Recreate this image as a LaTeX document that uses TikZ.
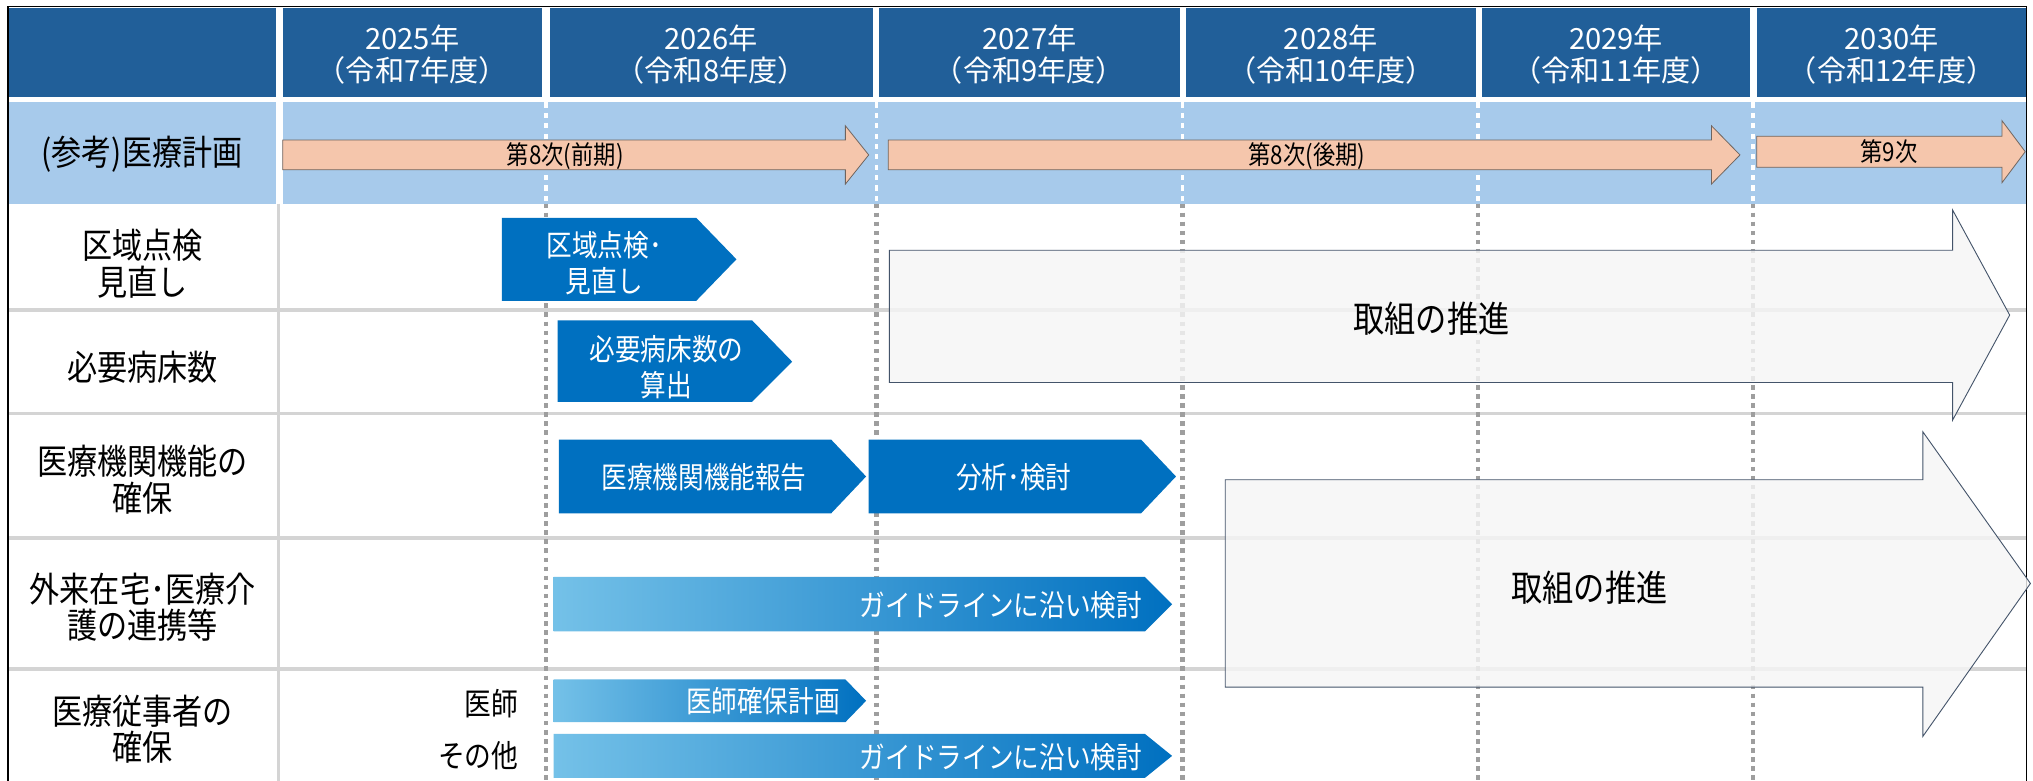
\documentclass[tikz,border=0pt]{standalone}
\usepackage{fontspec}
\setmainfont{Noto Sans CJK JP}
\newfontfamily\jpn[FakeStretch=0.86]{Noto Sans CJK JP}

\definecolor{hdrblue}{RGB}{33,95,153}
\definecolor{rowblue}{RGB}{167,202,235}
\definecolor{planorange}{RGB}{245,198,172}
\definecolor{planedge}{RGB}{110,100,95}
\definecolor{stepblue}{RGB}{0,112,192}
\definecolor{gradlight}{RGB}{116,193,232}
\definecolor{gridgrey}{RGB}{212,212,212}
\definecolor{dashgrey}{RGB}{158,158,158}
\definecolor{bigedge}{RGB}{68,84,106}
\definecolor{bigfill}{RGB}{246,246,246}

\begin{document}
\begin{tikzpicture}[x=1pt, y=-1pt,
		hdrcell/.style={fill=hdrblue, minimum height=69pt},
		hdrtext/.style={text=white, align=center, inner sep=0pt, font=\fontsize{22.5}{25}\selectfont},
		rowname/.style={align=center, inner sep=0pt, font=\jpn\fontsize{27}{28}\selectfont},
		subname/.style={anchor=east, inner sep=0pt, font=\jpn\fontsize{24}{26}\selectfont},
		gridline/.style={draw=gridgrey, line width=2.5pt},
		yearsep/.style={draw=dashgrey, line width=3.5pt, dash pattern=on 3.5pt off 3.5pt},
		rowsep/.style={draw=white, line width=3pt, dash pattern=on 4pt off 4pt},
		plan/.style={fill=planorange, draw=planedge, line width=0.6pt},
		plantext/.style={inner sep=0pt, font=\jpn\fontsize{20}{22}\selectfont},
		stepbox/.style={fill=stepblue},
		fadebox/.style={left color=gradlight, right color=stepblue},
		steptext/.style={text=white, align=center, inner sep=0pt, font=\jpn\fontsize{23}{28}\selectfont},
		pushbox/.style={fill=bigfill, fill opacity=0.82, draw=bigedge, line width=0.7pt},
		pushtext/.style={inner sep=0pt, font=\jpn\fontsize{28}{32}\selectfont}]

		\useasboundingbox (0,0) rectangle (1568,602);
		\fill[white] (0,0) rectangle (1568,602);

		% header
		\fill[hdrcell] (6,6) rectangle (213,75);
		\fill[hdrcell] (218,6) rectangle (418,75);
		\fill[hdrcell] (424,6) rectangle (673,75);
		\fill[hdrcell] (678,6) rectangle (910,75);
		\fill[hdrcell] (915,6) rectangle (1138,75);
		\fill[hdrcell] (1143,6) rectangle (1350,75);
		\fill[hdrcell] (1355,6) rectangle (1563,75);
		\node[hdrtext] (h2025) at (318,42) {2025年\\（令和7年度）};
		\node[hdrtext] (h2026) at (548.5,42) {2026年\\（令和8年度）};
		\node[hdrtext] (h2027) at (794,42) {2027年\\（令和9年度）};
		\node[hdrtext] (h2028) at (1026.5,42) {2028年\\（令和10年度）};
		\node[hdrtext] (h2029) at (1246.5,42) {2029年\\（令和11年度）};
		\node[hdrtext] (h2030) at (1459,42) {2030年\\（令和12年度）};

		% medical plan row
		\fill[rowblue] (6,79) rectangle (213,157);
		\fill[rowblue] (218,79) rectangle (1563,157);
		\node[rowname] (plan) at (109.5,119) {(参考)医療計画};
		\draw[rowsep] (421,79) -- (421,157);
		\draw[rowsep] (676,79) -- (676,157);
		\draw[rowsep] (912,79) -- (912,157);
		\draw[rowsep] (1140,79) -- (1140,157);
		\draw[rowsep] (1352,79) -- (1352,157);

		% grid
		\draw[gridline] (6,239) -- (1563,239);
		\draw[gridline] (6,319) -- (1563,319);
		\draw[gridline] (6,415) -- (1563,415);
		\draw[gridline] (6,516) -- (1563,516);
		\draw[gridline] (215,157) -- (215,602);
		\draw[yearsep] (421,157) -- (421,602);
		\draw[yearsep] (676,157) -- (676,602);
		\draw[yearsep] (912,157) -- (912,602);
		\draw[yearsep] (1140,157) -- (1140,602);
		\draw[yearsep] (1352,157) -- (1352,602);
		\draw[black, line width=1.2pt] (6,602) -- (6,5) -- (1563,5) -- (1563,602);

		% plan arrows
		\draw[plan] (218,108) -- (652,108) -- (652,97) -- (670,119.5) -- (652,142) -- (652,131) -- (218,131) -- cycle;
		\draw[plan] (685,108) -- (1320,108) -- (1320,97) -- (1342,119.5) -- (1320,142) -- (1320,131) -- (685,131) -- cycle;
		\draw[plan] (1355,105) -- (1544,105) -- (1544,93) -- (1562,117) -- (1544,141) -- (1544,129) -- (1355,129) -- cycle;
		\node[plantext] (p8a) at (436,120) {第8次(前期)};
		\node[plantext] (p8b) at (1008,120) {第8次(後期)};
		\node[plantext] (p9) at (1457,117) {第9次};

		% row labels
		\node[rowname] (r1) at (110,203.5) {区域点検\\見直し};
		\node[rowname] (r2) at (110,283) {必要病床数};
		\node[rowname] (r3) at (110,370) {医療機関機能の\\確保};
		\node[rowname] (r4) at (110,468.5) {外来在宅･医療介\\護の連携等};
		\node[rowname] (r5) at (110,562.5) {医療従事者の\\確保};
		\node[subname] (doc) at (400,543) {医師};
		\node[subname] (other) at (400,583) {その他};

		% steps
		\fill[stepbox] (387,168) -- (537,168) -- (568,200) -- (537,232) -- (387,232) -- cycle;
		\fill[stepbox] (430,247) -- (580,247) -- (611,279) -- (580,310) -- (430,310) -- cycle;
		\fill[stepbox] (431,339) -- (641,339) -- (668,367.5) -- (641,396) -- (431,396) -- cycle;
		\fill[stepbox] (670,339) -- (880,339) -- (907,367.5) -- (880,396) -- (670,396) -- cycle;
		\shade[fadebox] (427,445) -- (883,445) -- (904,466) -- (883,487) -- (427,487) -- cycle;
		\shade[fadebox] (427,524) -- (652,524) -- (668,540.5) -- (652,557) -- (427,557) -- cycle;
		\shade[fadebox] (427,566) -- (883,566) -- (904,583) -- (883,600) -- (427,600) -- cycle;
		\node[steptext] (review) at (466,203) {区域点検･\\見直し};
		\node[steptext] (beds) at (514,283) {必要病床数の\\算出};
		\node[steptext] (report) at (543,368) {医療機関機能報告};
		\node[steptext] (study) at (782,368) {分析･検討};
		\node[steptext, anchor=east] (guide1) at (881,467) {ガイドラインに沿い検討};
		\node[steptext, anchor=east] (docplan) at (648,541) {医師確保計画};
		\node[steptext, anchor=east] (guide2) at (881,584) {ガイドラインに沿い検討};

		% big arrows
		\draw[pushbox] (686,193) -- (1506,193) -- (1506,162) -- (1550,243) -- (1506,324) -- (1506,295) -- (686,295) -- cycle;
		\draw[pushbox] (945,370) -- (1483,370) -- (1483,333) -- (1566,450) -- (1483,568) -- (1483,530) -- (945,530) -- cycle;
		\node[pushtext] (push1) at (1104,246) {取組の推進};
		\node[pushtext] (push2) at (1226,453) {取組の推進};

	\end{tikzpicture}
\end{document}
